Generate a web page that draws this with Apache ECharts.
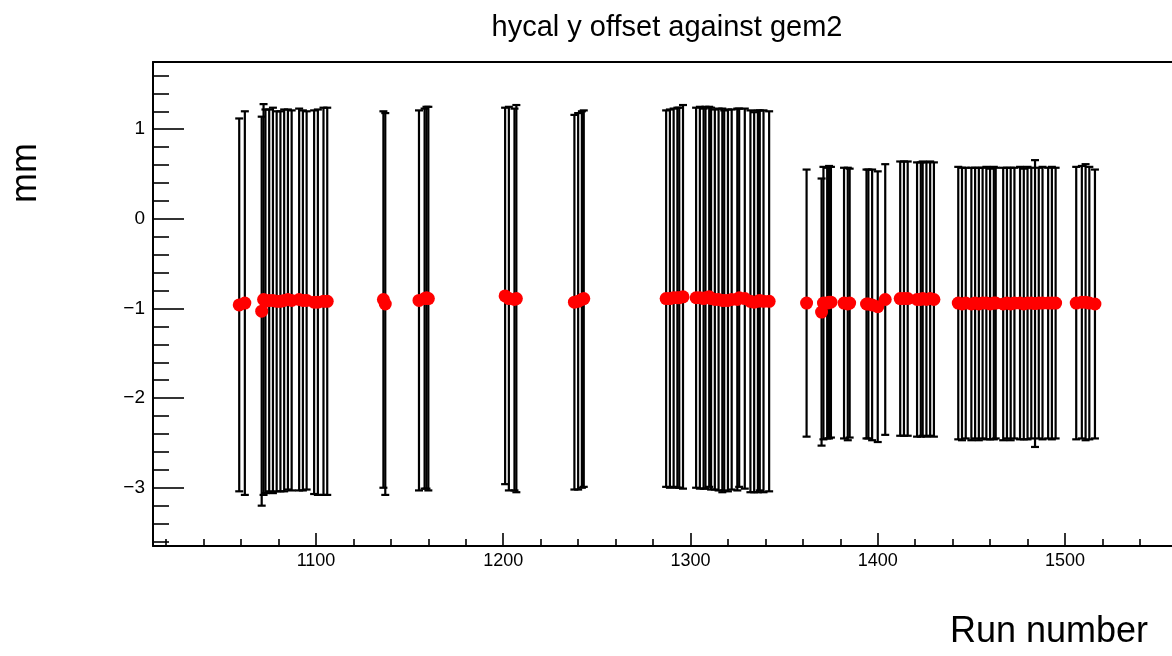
<!DOCTYPE html>
<html>
<head>
<meta charset="utf-8">
<title>hycal y offset against gem2</title>
<script src="https://cdn.jsdelivr.net/npm/echarts@6/dist/echarts.min.js"></script>
<style>
  html, body { margin: 0; padding: 0; background: #ffffff; }
  #chart { width: 1172px; height: 656px; }
</style>
</head>
<body>
<div id="chart"></div>
<script>
// Run numbers, fitted y offset (mm) and its uncertainty (mm)
const runs = [
  1059, 1062, 1071, 1072, 1073, 1075, 1077, 1079, 1081, 1083, 1085, 1087, 1091, 1093, 1095, 1099, 1101, 1104, 1106,
  1136, 1137, 1155, 1158, 1159, 1160,
  1201, 1203, 1206, 1207,
  1238, 1240, 1242, 1243,
  1287, 1289, 1291, 1293, 1294, 1296, 1303, 1305, 1307, 1308, 1310, 1311, 1313, 1315, 1317, 1318, 1320, 1322, 1325, 1326, 1329, 1332, 1334, 1336, 1337, 1339, 1342,
  1362, 1370, 1371, 1373, 1374, 1375, 1382, 1384, 1385, 1394, 1395, 1397, 1400, 1404, 1412, 1414, 1416, 1421, 1423, 1424, 1426, 1428, 1430,
  1443, 1445, 1447, 1450, 1452, 1454, 1456, 1458, 1460, 1462, 1463, 1467, 1469, 1471, 1473, 1476, 1478, 1480, 1482, 1484, 1486, 1488, 1491, 1493, 1495,
  1506, 1509, 1511, 1513, 1516
];
const offsets = [
  -0.96, -0.94, -1.03, -0.90, -0.92, -0.91, -0.91, -0.92, -0.92, -0.91, -0.90, -0.91, -0.90, -0.91, -0.91, -0.93, -0.93, -0.92, -0.92,
  -0.90, -0.95, -0.91, -0.89, -0.88, -0.89,
  -0.86, -0.89, -0.90, -0.89,
  -0.93, -0.92, -0.90, -0.89,
  -0.89, -0.89, -0.88, -0.88, -0.88, -0.87, -0.88, -0.88, -0.89, -0.88, -0.87, -0.89, -0.90, -0.90, -0.91, -0.91, -0.91, -0.90, -0.90, -0.88, -0.89, -0.92, -0.93, -0.92, -0.91, -0.92, -0.92,
  -0.94, -1.04, -0.94, -0.94, -0.93, -0.93, -0.94, -0.95, -0.94, -0.95, -0.95, -0.96, -0.98, -0.90, -0.89, -0.89, -0.89, -0.90, -0.90, -0.89, -0.90, -0.89, -0.90,
  -0.94, -0.95, -0.94, -0.95, -0.94, -0.95, -0.94, -0.94, -0.95, -0.94, -0.94, -0.95, -0.94, -0.95, -0.94, -0.94, -0.95, -0.94, -0.94, -0.945, -0.94, -0.94, -0.94, -0.94, -0.94,
  -0.94, -0.93, -0.93, -0.94, -0.95
];
const errors = [
  2.08, 2.14, 2.17, 2.18, 2.14, 2.13, 2.15, 2.12, 2.12, 2.13, 2.12, 2.12, 2.13, 2.12, 2.11, 2.14, 2.15, 2.16, 2.16,
  2.10, 2.13, 2.12, 2.12, 2.13, 2.14,
  2.10, 2.14, 2.13, 2.16,
  2.09, 2.10, 2.10, 2.10,
  2.10, 2.11, 2.11, 2.12, 2.12, 2.14, 2.12, 2.13, 2.12, 2.13, 2.12, 2.13, 2.12, 2.13, 2.14, 2.12, 2.13, 2.12, 2.13, 2.11, 2.12, 2.13, 2.12, 2.13, 2.12, 2.13, 2.12,
  1.49, 1.49, 1.52, 1.51, 1.52, 1.51, 1.51, 1.52, 1.50, 1.50, 1.50, 1.51, 1.51, 1.51, 1.53, 1.53, 1.53, 1.53, 1.53, 1.53, 1.53, 1.53, 1.53,
  1.52, 1.52, 1.51, 1.52, 1.51, 1.52, 1.51, 1.52, 1.51, 1.52, 1.51, 1.52, 1.51, 1.52, 1.51, 1.52, 1.51, 1.52, 1.51, 1.60, 1.51, 1.52, 1.51, 1.52, 1.51,
  1.52, 1.52, 1.54, 1.52, 1.50
];

// Axis ticks
const xMajorTicks = [1100, 1200, 1300, 1400, 1500];
const xMinorTicks = [1020, 1040, 1060, 1080, 1120, 1140, 1160, 1180, 1220, 1240, 1260, 1280,
                     1320, 1340, 1360, 1380, 1420, 1440, 1460, 1480, 1520, 1540];
const yMajorTicks = [-3, -2, -1, 0, 1];
const yMinorTicks = [-3.6, -3.4, -3.2, -2.8, -2.6, -2.4, -2.2, -1.8, -1.6, -1.4, -1.2,
                     -0.8, -0.6, -0.4, -0.2, 0.2, 0.4, 0.6, 0.8, 1.2, 1.4, 1.6];

// The plotted run range ends at the right edge of the page (frame is open there)
const X_MIN = 1012.95, X_MAX = 1557.15;
const Y_MIN = -3.65, Y_MAX = 1.75;

const points = runs.map((r, i) => [r, offsets[i], errors[i]]);

const FONT = '"Liberation Sans", Arial, Helvetica, sans-serif';

const chart = echarts.init(document.getElementById('chart'), null, { renderer: 'canvas' });

function xAxisDef(ticks, len, withLabels, position) {
  return {
    type: 'value', position: position || 'bottom', min: X_MIN, max: X_MAX,
    axisLine: { show: withLabels || position === 'top', onZero: false,
                lineStyle: { color: '#000', width: 2 } },
    axisTick: { show: !!ticks, inside: true, length: len, customValues: ticks || [],
                lineStyle: { color: '#000', width: 1.6 } },
    axisLabel: { show: withLabels, customValues: ticks || [], margin: 6, color: '#000',
                 fontSize: 18, fontFamily: FONT, formatter: v => String(v) },
    splitLine: { show: false }
  };
}

function yAxisDef(ticks, len, withLabels) {
  return {
    type: 'value', position: 'left', min: Y_MIN, max: Y_MAX,
    axisLine: { show: withLabels, onZero: false, lineStyle: { color: '#000', width: 2 } },
    axisTick: { show: true, inside: true, length: len, customValues: ticks,
                lineStyle: { color: '#000', width: 1.6 } },
    axisLabel: { show: withLabels, customValues: ticks, margin: 8, color: '#000',
                 fontSize: 19, fontFamily: FONT,
                 formatter: v => String(v).replace('-', '\u2212') },
    splitLine: { show: false }
  };
}

chart.setOption({
  backgroundColor: '#ffffff',
  animation: false,
  grid: { left: 153, top: 62, right: 0, bottom: 110, show: false },
  xAxis: [
    xAxisDef(xMajorTicks, 13, true),
    xAxisDef(xMinorTicks, 7, false),
    xAxisDef(null, 0, false, 'top')   // top edge of the frame
  ],
  yAxis: [yAxisDef(yMajorTicks, 31, true), yAxisDef(yMinorTicks, 16, false)],
  graphic: [
    {
      type: 'text', x: 667, y: 13,
      style: { text: 'hycal y offset against gem2', font: '29px ' + FONT, fill: '#000',
               textAlign: 'center', textVerticalAlign: 'top' }
    },
    {
      type: 'text', x: 1148, y: 650,
      style: { text: 'Run number', font: '36px ' + FONT, fill: '#000',
               textAlign: 'right', textVerticalAlign: 'bottom' }
    },
    {
      type: 'text', x: 26, y: 173, rotation: Math.PI / 2,
      style: { text: 'mm', font: '36px ' + FONT, fill: '#000',
               textAlign: 'center', textVerticalAlign: 'middle' }
    }
  ],
  series: [
    {
      type: 'custom',
      name: 'error',
      xAxisIndex: 0, yAxisIndex: 0,
      data: points,
      clip: true,
      z: 2,
      renderItem: function (params, api) {
        const x = api.value(0), y = api.value(1), e = api.value(2);
        const top = api.coord([x, y + e]);
        const bot = api.coord([x, y - e]);
        const cap = 4;
        const st = { stroke: '#000', lineWidth: 2.2 };
        return {
          type: 'group',
          children: [
            { type: 'line', shape: { x1: top[0], y1: top[1], x2: bot[0], y2: bot[1] }, style: st },
            { type: 'line', shape: { x1: top[0] - cap, y1: top[1], x2: top[0] + cap, y2: top[1] }, style: st },
            { type: 'line', shape: { x1: bot[0] - cap, y1: bot[1], x2: bot[0] + cap, y2: bot[1] }, style: st }
          ]
        };
      }
    },
    {
      type: 'scatter',
      name: 'offset',
      xAxisIndex: 0, yAxisIndex: 0,
      data: points.map(p => [p[0], p[1]]),
      symbol: 'circle',
      symbolSize: 13,
      itemStyle: { color: '#ff0000', opacity: 1 },
      z: 3
    }
  ]
});
</script>
</body>
</html>
